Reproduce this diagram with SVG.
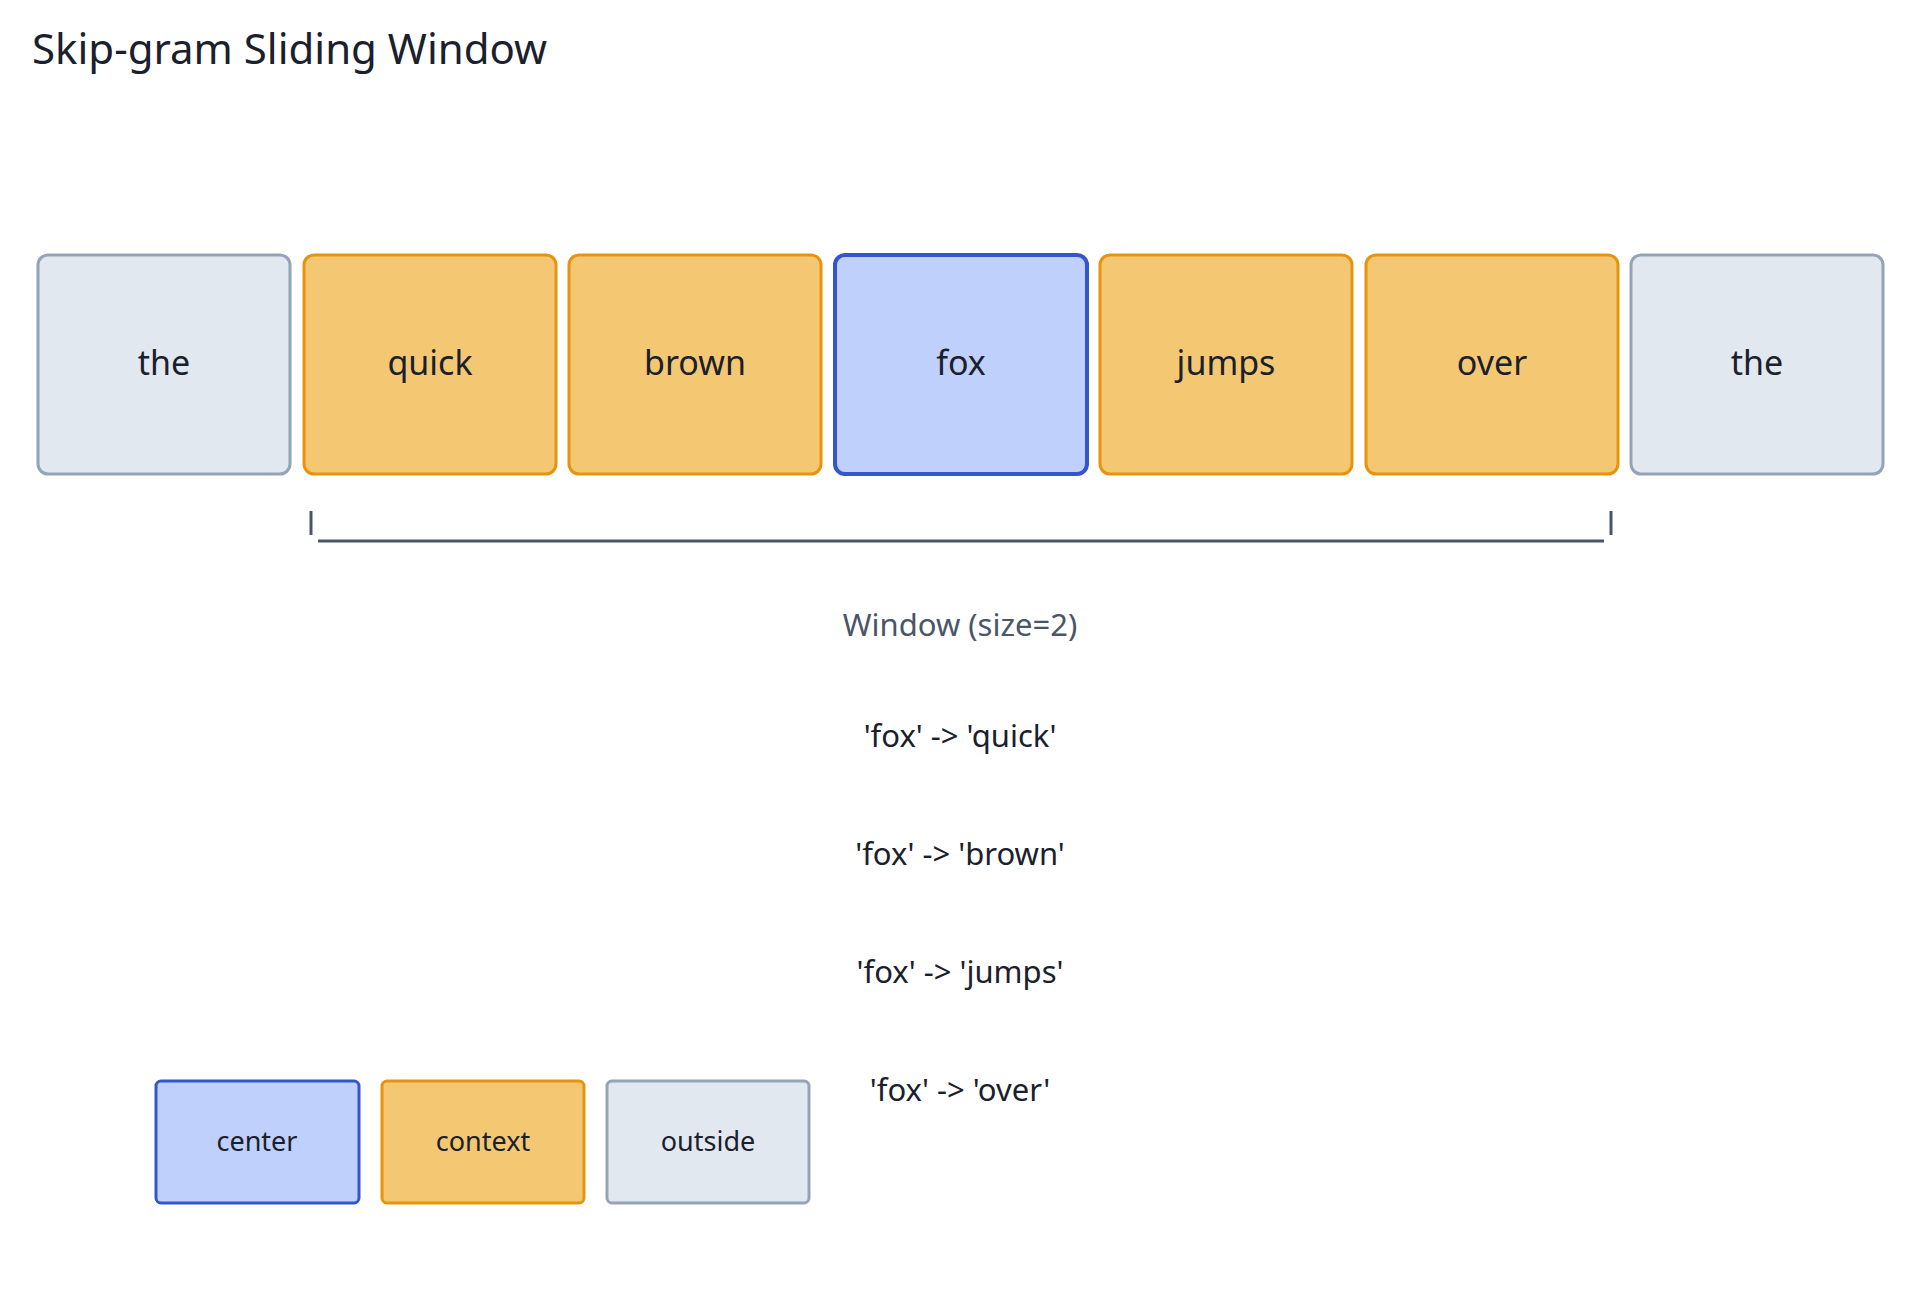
<svg xmlns="http://www.w3.org/2000/svg" width="1920" height="1292" viewBox="0 0 1920 1292">
<style>
text{font-family:"Noto Sans","Noto Sans CJK KR",sans-serif;fill:#1a202c;text-anchor:middle}
.o{fill:#e2e8f0;stroke:#94a3b8;stroke-width:3}
.c{fill:#f4c872;stroke:#e8930c;stroke-width:3}
.m{fill:#c0d0fc;stroke:#3556c8;stroke-width:4}
.w{font-size:34px}
.p{font-size:31px}
.l{font-size:27px}
</style>
<rect width="1920" height="1292" fill="#fff"/>
<text x="32" y="64" style="font-size:42px;text-anchor:start">Skip-gram Sliding Window</text>
<g id="w0"><rect class="o" x="38" y="255" width="252" height="219" rx="10"/><text class="w" x="164" y="375">the</text></g>
<g id="w1"><rect class="c" x="304" y="255" width="252" height="219" rx="10"/><text class="w" x="430" y="375">quick</text></g>
<g id="w2"><rect class="c" x="569" y="255" width="252" height="219" rx="10"/><text class="w" x="695" y="375">brown</text></g>
<g id="w3"><rect class="m" x="835" y="255" width="252" height="219" rx="10"/><text class="w" x="961" y="375">fox</text></g>
<g id="w4"><rect class="c" x="1100" y="255" width="252" height="219" rx="10"/><text class="w" x="1226" y="375">jumps</text></g>
<g id="w5"><rect class="c" x="1366" y="255" width="252" height="219" rx="10"/><text class="w" x="1492" y="375">over</text></g>
<g id="w6"><rect class="o" x="1631" y="255" width="252" height="219" rx="10"/><text class="w" x="1757" y="375">the</text></g>
<g id="connectors" stroke="#4a5568" stroke-width="3">
<line x1="318" y1="541" x2="1604" y2="541"/>
<line x1="311" y1="511" x2="311" y2="535"/>
<line x1="1611" y1="511" x2="1611" y2="535"/>
</g>
<text x="960" y="636" style="font-size:31px;fill:#4a5568">Window (size=2)</text>
<text class="p" x="960" y="747">'fox' -&gt; 'quick'</text>
<text class="p" x="960" y="865">'fox' -&gt; 'brown'</text>
<text class="p" x="960" y="983">'fox' -&gt; 'jumps'</text>
<text class="p" x="960" y="1101">'fox' -&gt; 'over'</text>
<g id="legend-center"><rect class="m" x="156" y="1081" width="203" height="122" rx="5" style="stroke-width:3"/><text class="l" x="257" y="1151">center</text></g>
<g id="legend-context"><rect class="c" x="382" y="1081" width="202" height="122" rx="5"/><text class="l" x="483" y="1151">context</text></g>
<g id="legend-outside"><rect class="o" x="607" y="1081" width="202" height="122" rx="5"/><text class="l" x="708" y="1151">outside</text></g>
</svg>
